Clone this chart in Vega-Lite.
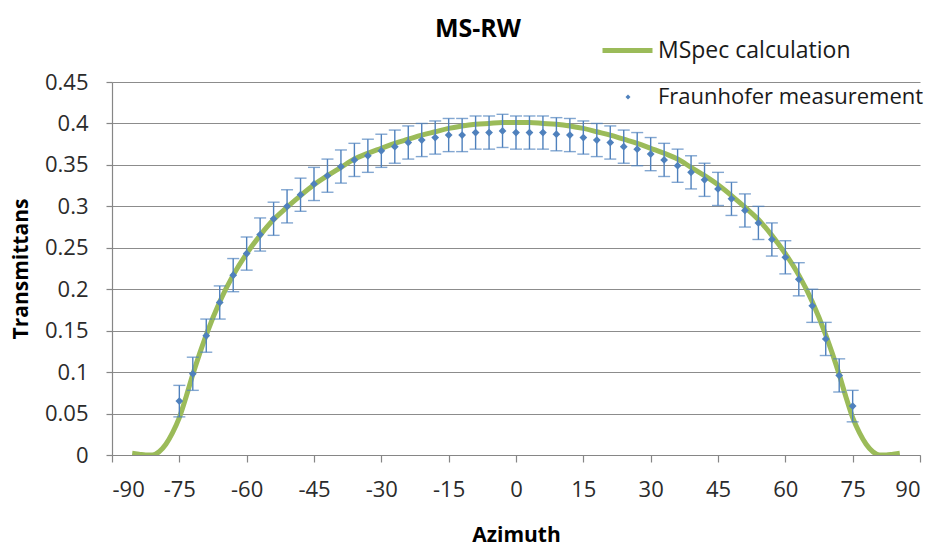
{
  "$schema": "https://vega.github.io/schema/vega-lite/v6.json",
  "width": 808,
  "height": 373,
  "autosize": {"type": "none"},
  "padding": {"left": 112, "top": 82, "right": 21, "bottom": 91},
  "background": "white",
  "title": {"text": "MS-RW", "font": "Open Sans", "fontSize": 25, "fontWeight": "bold", "color": "#000000", "anchor": "middle", "dx": -38, "offset": -19},
  "datasets": {
    "curve": [
      {"az": -85.5, "c": 0.002}, {"az": -84, "c": 0.001}, {"az": -82.5, "c": 0.0}, {"az": -81, "c": 0.0},
      {"az": -79.5, "c": 0.004}, {"az": -78, "c": 0.013}, {"az": -76.5, "c": 0.027}, {"az": -75, "c": 0.045},
      {"az": -73.5, "c": 0.07}, {"az": -72, "c": 0.097}, {"az": -70.5, "c": 0.122}, {"az": -69, "c": 0.145},
      {"az": -66, "c": 0.185}, {"az": -63, "c": 0.217}, {"az": -60, "c": 0.243}, {"az": -57, "c": 0.265},
      {"az": -54, "c": 0.284}, {"az": -51, "c": 0.299}, {"az": -48, "c": 0.313}, {"az": -45, "c": 0.326},
      {"az": -42, "c": 0.337}, {"az": -39, "c": 0.347}, {"az": -36, "c": 0.357}, {"az": -33, "c": 0.364},
      {"az": -30, "c": 0.370}, {"az": -27, "c": 0.376}, {"az": -24, "c": 0.381}, {"az": -21, "c": 0.386},
      {"az": -18, "c": 0.390}, {"az": -15, "c": 0.394}, {"az": -12, "c": 0.397}, {"az": -9, "c": 0.399},
      {"az": -6, "c": 0.400}, {"az": -3, "c": 0.401}, {"az": 0, "c": 0.401},
      {"az": 3, "c": 0.401}, {"az": 6, "c": 0.400}, {"az": 9, "c": 0.399}, {"az": 12, "c": 0.397},
      {"az": 15, "c": 0.394}, {"az": 18, "c": 0.390}, {"az": 21, "c": 0.386}, {"az": 24, "c": 0.381},
      {"az": 27, "c": 0.376}, {"az": 30, "c": 0.370}, {"az": 33, "c": 0.364}, {"az": 36, "c": 0.357},
      {"az": 39, "c": 0.347}, {"az": 42, "c": 0.337}, {"az": 45, "c": 0.326}, {"az": 48, "c": 0.313},
      {"az": 51, "c": 0.299}, {"az": 54, "c": 0.284}, {"az": 57, "c": 0.265}, {"az": 60, "c": 0.243},
      {"az": 63, "c": 0.217}, {"az": 66, "c": 0.185}, {"az": 69, "c": 0.145}, {"az": 70.5, "c": 0.122},
      {"az": 72, "c": 0.097}, {"az": 73.5, "c": 0.07}, {"az": 75, "c": 0.045}, {"az": 76.5, "c": 0.027},
      {"az": 78, "c": 0.013}, {"az": 79.5, "c": 0.004}, {"az": 81, "c": 0.0}, {"az": 82.5, "c": 0.0},
      {"az": 84, "c": 0.001}, {"az": 85.5, "c": 0.002}
    ],
    "meas": [
      {"az": -75, "t": 0.065, "err": 0.019}, {"az": -72, "t": 0.098, "err": 0.02}, {"az": -69, "t": 0.144, "err": 0.02},
      {"az": -66, "t": 0.184, "err": 0.02}, {"az": -63, "t": 0.217, "err": 0.02}, {"az": -60, "t": 0.243, "err": 0.02},
      {"az": -57, "t": 0.266, "err": 0.02}, {"az": -54, "t": 0.285, "err": 0.02}, {"az": -51, "t": 0.300, "err": 0.02},
      {"az": -48, "t": 0.314, "err": 0.02}, {"az": -45, "t": 0.327, "err": 0.02}, {"az": -42, "t": 0.337, "err": 0.02},
      {"az": -39, "t": 0.348, "err": 0.02}, {"az": -36, "t": 0.356, "err": 0.02}, {"az": -33, "t": 0.361, "err": 0.02},
      {"az": -30, "t": 0.367, "err": 0.02}, {"az": -27, "t": 0.372, "err": 0.02}, {"az": -24, "t": 0.377, "err": 0.02},
      {"az": -21, "t": 0.380, "err": 0.02}, {"az": -18, "t": 0.383, "err": 0.02}, {"az": -15, "t": 0.386, "err": 0.02},
      {"az": -12, "t": 0.386, "err": 0.02}, {"az": -9, "t": 0.389, "err": 0.02}, {"az": -6, "t": 0.389, "err": 0.02},
      {"az": -3, "t": 0.391, "err": 0.02}, {"az": 0, "t": 0.389, "err": 0.02}, {"az": 3, "t": 0.389, "err": 0.02},
      {"az": 6, "t": 0.389, "err": 0.02}, {"az": 9, "t": 0.387, "err": 0.02}, {"az": 12, "t": 0.386, "err": 0.02},
      {"az": 15, "t": 0.383, "err": 0.02}, {"az": 18, "t": 0.380, "err": 0.02}, {"az": 21, "t": 0.377, "err": 0.02},
      {"az": 24, "t": 0.372, "err": 0.02}, {"az": 27, "t": 0.369, "err": 0.02}, {"az": 30, "t": 0.363, "err": 0.02},
      {"az": 33, "t": 0.356, "err": 0.02}, {"az": 36, "t": 0.349, "err": 0.02}, {"az": 39, "t": 0.341, "err": 0.02},
      {"az": 42, "t": 0.332, "err": 0.02}, {"az": 45, "t": 0.321, "err": 0.02}, {"az": 48, "t": 0.309, "err": 0.02},
      {"az": 51, "t": 0.295, "err": 0.02}, {"az": 54, "t": 0.280, "err": 0.02}, {"az": 57, "t": 0.260, "err": 0.02},
      {"az": 60, "t": 0.2385, "err": 0.02}, {"az": 63, "t": 0.212, "err": 0.02}, {"az": 66, "t": 0.180, "err": 0.02},
      {"az": 69, "t": 0.140, "err": 0.02}, {"az": 72, "t": 0.096, "err": 0.02}, {"az": 75, "t": 0.059, "err": 0.019}
    ]
  },
  "encoding": {
    "x": {
      "type": "quantitative",
      "scale": {"domain": [-90, 90], "nice": false, "zero": false},
      "axis": {
        "title": "Azimuth",
        "values": [-90, -75, -60, -45, -30, -15, 0, 15, 30, 45, 60, 75, 90],
        "labelExpr": "datum.value < 0 ? '-' + abs(datum.value) : '' + datum.value",
        "grid": false,
        "tickSize": 7,
        "labelPadding": 17,
        "titlePadding": 24
      }
    }
  },
  "layer": [
    {
      "data": {"name": "curve"},
      "mark": {"type": "line", "strokeWidth": 5, "interpolate": "monotone", "clip": true},
      "encoding": {
        "x": {"field": "az", "type": "quantitative"},
        "y": {
          "field": "c", "type": "quantitative", "title": "Transmittans",
          "scale": {"domain": [0, 0.45], "nice": false},
          "axis": {
            "title": "Transmittans",
            "values": [0, 0.05, 0.1, 0.15, 0.2, 0.25, 0.3, 0.35, 0.4, 0.45],
            "format": ".2~f",
            "grid": true,
            "tickSize": 6,
            "labelPadding": 18,
            "titlePadding": 13
          }
        },
        "stroke": {
          "datum": "MSpec calculation",
          "scale": {"domain": ["MSpec calculation"], "range": ["#9BBB59"]},
          "legend": {
            "orient": "none", "legendX": 488, "legendY": -59, "title": null,
            "symbolType": "stroke", "symbolSize": 2500, "symbolStrokeWidth": 5,
            "labelOffset": 3, "padding": 0, "labelLimit": 500, "labelFontSize": 23
          }
        }
      }
    },
    {
      "data": {"name": "meas"},
      "mark": {"type": "errorbar", "color": "#4F81BD", "ticks": {"size": 12}, "thickness": 1.4},
      "encoding": {
        "x": {"field": "az", "type": "quantitative"},
        "y": {"field": "t", "type": "quantitative", "title": "Transmittans"},
        "yError": {"field": "err"}
      }
    },
    {
      "data": {"name": "meas"},
      "mark": {"type": "point", "shape": "diamond", "filled": true, "size": 60, "opacity": 1},
      "encoding": {
        "x": {"field": "az", "type": "quantitative"},
        "y": {"field": "t", "type": "quantitative", "title": "Transmittans"},
        "fill": {
          "datum": "Fraunhofer measurement",
          "scale": {"domain": ["Fraunhofer measurement"], "range": ["#4F81BD"]},
          "legend": {
            "orient": "none", "legendX": 505, "legendY": 4, "title": null,
            "symbolType": "diamond", "symbolSize": 25,
            "labelOffset": 19, "padding": 0, "labelLimit": 500, "labelFontSize": 22
          }
        }
      }
    }
  ],
  "config": {
    "view": {"stroke": null},
    "font": "Open Sans",
    "axis": {
      "domainColor": "#868686",
      "tickColor": "#868686",
      "gridColor": "#8c8c8c",
      "gridWidth": 1.2,
      "domainWidth": 1.2,
      "tickWidth": 1.2,
      "labelFont": "Open Sans",
      "labelFontSize": 22,
      "labelColor": "#2b2b2b",
      "titleFont": "Open Sans",
      "titleFontSize": 21,
      "titleFontWeight": "bold",
      "titleColor": "#000000"
    },
    "legend": {
      "labelFont": "Open Sans",
      "labelColor": "#1a1a1a"
    }
  }
}
